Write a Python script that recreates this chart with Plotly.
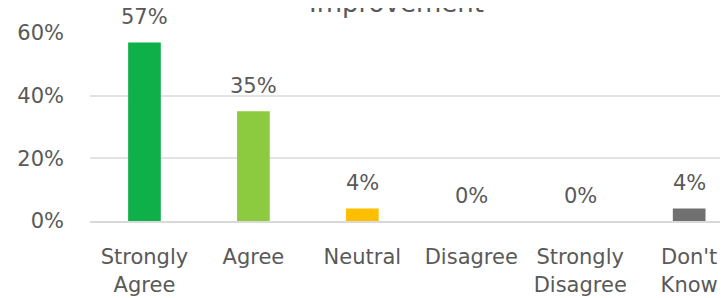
import plotly.graph_objects as go

categories = ["Strongly<br>Agree", "Agree", "Neutral", "Disagree", "Strongly<br>Disagree", "Don't<br>Know"]
values = [57, 35, 4, 0, 0, 4]
colors = ["#0FAF4A", "#8CCB3F", "#FFBE00", "#6F9F3A", "#4A7A2A", "#707070"]
title_text = "Improvement"
y_ticks = [0, 20, 40, 60]
y_tick_labels = ["0%", "20%", "40%", "60%"]

FONT = "DejaVu Sans"
GRAY = "#595959"

fig = go.Figure()
fig.add_trace(go.Bar(
    x=list(range(len(categories))),
    y=values,
    marker=dict(color=colors, line=dict(width=0)),
    width=0.30,
    hoverinfo="skip",
    cliponaxis=False,
))

annotations = []
for i, v in enumerate(values):
    annotations.append(dict(
        x=i, y=v, xref="x", yref="y", text=f"{v}%",
        showarrow=False, yanchor="middle", yshift=25,
        font=dict(family=FONT, size=21, color=GRAY),
    ))
annotations.append(dict(
    x=0.475, y=1, xref="paper", yref="paper", text=title_text,
    showarrow=False, yanchor="bottom", xanchor="center", yshift=13,
    font=dict(family=FONT, size=26, color=GRAY),
))

fig.update_layout(
    width=728, height=298,
    margin=dict(l=82, r=0, t=25, b=85, autoexpand=False),
    paper_bgcolor="white", plot_bgcolor="white",
    showlegend=False,
    annotations=annotations,
    xaxis=dict(
        tickmode="array", tickvals=list(range(len(categories))), ticktext=categories,
        range=[-0.5, 5.43], automargin=False,
        showgrid=False, zeroline=False,
        showline=True, linecolor="#D9D9D9", linewidth=2,
        ticks="", ticklabelstandoff=16,
        tickfont=dict(family=FONT, size=21, color=GRAY),
        tickangle=0,
    ),
    yaxis=dict(
        range=[0, 60], tickmode="array", tickvals=y_ticks, ticktext=y_tick_labels,
        automargin=False,
        showgrid=True, gridcolor="#E3E3E3", gridwidth=2,
        zeroline=False, showline=False, ticks="",
        ticklabelstandoff=25,
        tickfont=dict(family=FONT, size=21, color=GRAY),
    ),
)

fig.write_html("out.html")
